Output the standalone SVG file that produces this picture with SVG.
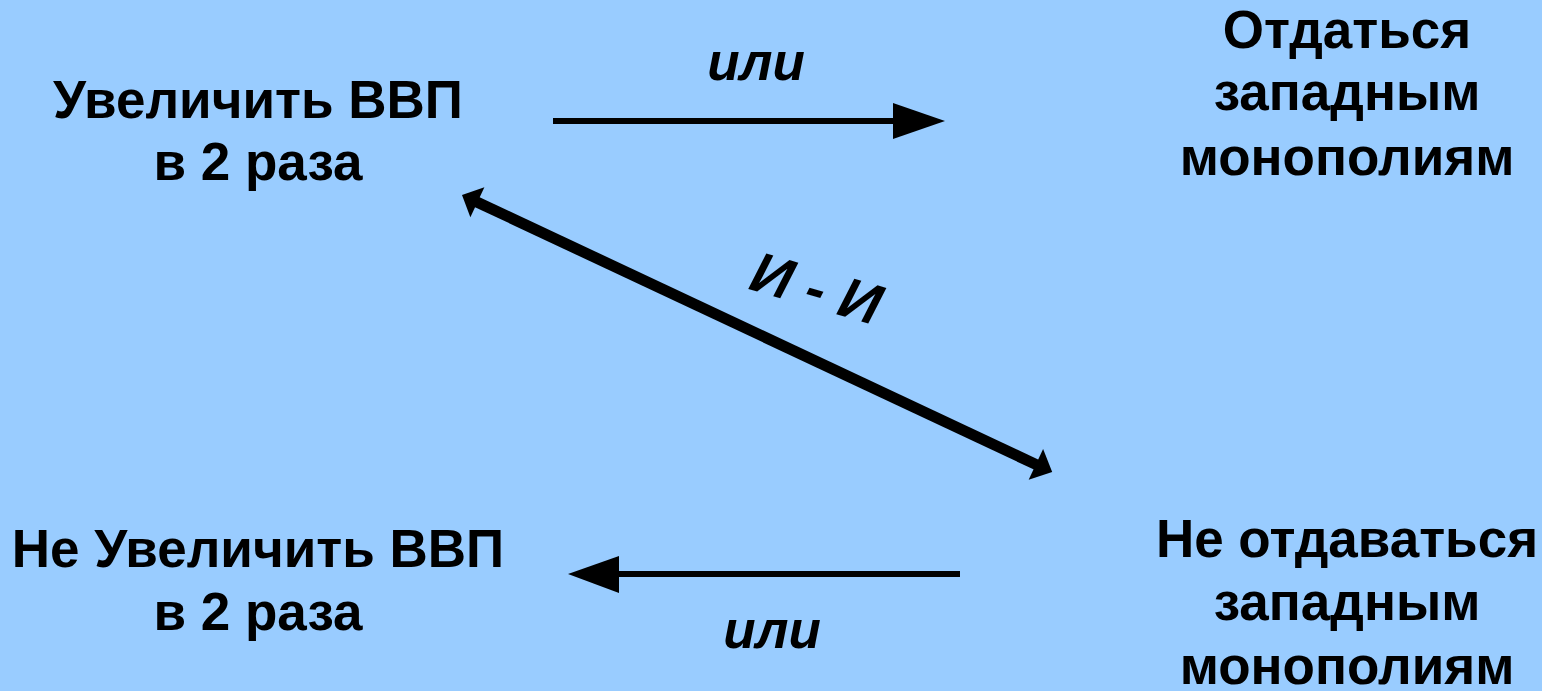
<svg xmlns="http://www.w3.org/2000/svg" width="1542" height="691" viewBox="0 0 1542 691">
<style>
.t{font-family:"Liberation Sans",Arial,sans-serif;font-weight:bold;font-size:53px;fill:#000;text-anchor:middle}
.l{font-family:"Liberation Sans",Arial,sans-serif;font-weight:bold;font-style:italic;font-size:53px;fill:#000;text-anchor:middle}
</style>
<rect width="1542" height="691" fill="#99CCFF"/>
<g id="n1"><text class="t" x="258" y="118">Увеличить ВВП</text><text class="t" x="258" y="180">в 2 раза</text></g>
<g id="n2"><text class="t" x="1347" y="48">Отдаться</text><text class="t" x="1347" y="110">западным</text><text class="t" x="1347" y="175">монополиям</text></g>
<g id="n3"><text class="t" x="258" y="567">Не Увеличить ВВП</text><text class="t" x="258" y="630">в 2 раза</text></g>
<g id="n4"><text class="t" x="1347" y="557">Не отдаваться</text><text class="t" x="1347" y="620">западным</text><text class="t" x="1347" y="684">монополиям</text></g>
<g id="connectors">
<line x1="553" y1="121" x2="896" y2="121" stroke="#000" stroke-width="6"/>
<polygon points="893,103 945,121 893,139" fill="#000"/>
<text class="l" x="756" y="80">или</text>
<line x1="960" y1="574" x2="617" y2="574" stroke="#000" stroke-width="6"/>
<polygon points="619,556 568,574 619,593" fill="#000"/>
<text class="l" x="772" y="648">или</text>
<g transform="translate(462,195) rotate(25.15)">
<line x1="14" y1="0" x2="638" y2="0" stroke="#000" stroke-width="11"/>
<polygon points="0,0 17,-16.5 17,16.5" fill="#000"/>
<polygon points="652,0 634,-17 634,17" fill="#000"/>
</g>
<text class="l" style="font-size:57px" transform="translate(811,307) rotate(16)">И - И</text>
</g>
</svg>
